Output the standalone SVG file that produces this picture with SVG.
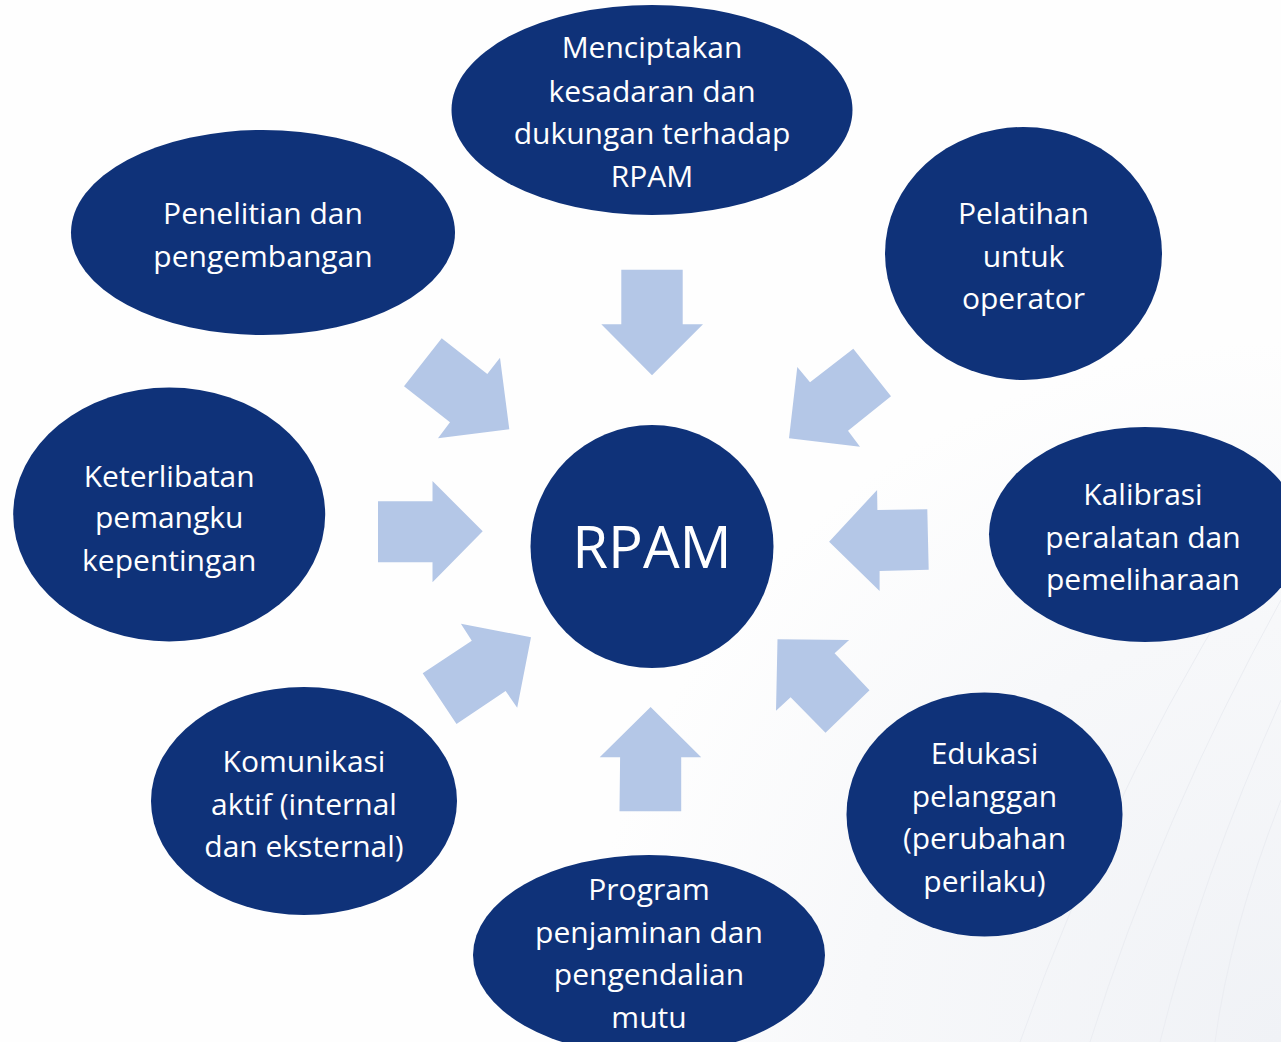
<svg xmlns="http://www.w3.org/2000/svg" width="1281" height="1042" viewBox="0 0 1281 1042">
<defs>
<radialGradient id="bg" cx="1281" cy="1042" r="700" gradientUnits="userSpaceOnUse">
<stop offset="0" stop-color="#F0F2F6"/>
<stop offset="0.6" stop-color="#F7F8FA"/>
<stop offset="1" stop-color="#FEFEFE"/>
</radialGradient>
<style>
.node{fill:#0F3279;}
.lbl{fill:#FFFFFF;font-family:"Open Sans","Noto Sans","DejaVu Sans",sans-serif;font-size:30px;text-anchor:middle;}
.big{font-size:58px;}
.arr{fill:#B4C7E7;}
.bgl{stroke:#EBEDF2;stroke-width:1;fill:none;}
</style>
</defs>
<rect x="0" y="0" width="1281" height="1042" fill="url(#bg)"/>
<g id="background-lines">
<path class="bgl" d="M1281 520 Q1120 760 1020 1042"/>
<path class="bgl" d="M1281 600 Q1160 820 1090 1042"/>
<path class="bgl" d="M1281 700 Q1200 880 1160 1042"/>
<path class="bgl" d="M1281 800 Q1230 930 1215 1042"/>
</g>
<g id="connectors">
<polygon class="arr" points="621.3,269.7 682.7,269.7 682.7,324.3 703,324.3 652,375.3 601.3,324.3 621.3,324.3"/>
<polygon class="arr" points="441.7,338.3 487.3,374 500,357.7 509.3,429.3 438,438.3 450,422.3 404,386.3"/>
<polygon class="arr" points="853.3,348.7 891,396.3 848,430.7 860,446.7 789,438.3 797.3,367 810,382.3"/>
<polygon class="arr" points="378,501.3 432.5,501.3 432.5,481 482.7,531.3 432.5,582.3 432.5,562.3 378,562.3"/>
<polygon class="arr" points="877.1,490 877.4,510 927.3,509.3 928.7,569.7 879.6,571 879.6,591 829.1,541.7"/>
<polygon class="arr" points="460.9,623.7 531,637.3 517.2,707.7 505.6,691 456.5,724 422.7,673.3 471.8,640.7"/>
<polygon class="arr" points="650.6,707 701.2,757.3 681.2,757.3 681.2,811.3 619.5,811.3 620.1,757.3 599.7,757.3"/>
<polygon class="arr" points="777.5,639.3 849.1,640 834.6,653.3 869.5,690.3 825.5,732.7 790.6,697.3 776,710.7"/>
</g>
<g id="node-rpam">
<circle class="node" cx="652" cy="546.5" r="121.5"/>
<text class="lbl big" x="652" y="567.7">RPAM</text>
</g>
<g id="node-menciptakan">
<ellipse class="node" cx="652" cy="110" rx="200.5" ry="105"/>
<text class="lbl" x="652" y="58.3">Menciptakan</text>
<text class="lbl" x="652" y="101.5">kesadaran dan</text>
<text class="lbl" x="652" y="143.5">dukungan terhadap</text>
<text class="lbl" x="652" y="186.5">RPAM</text>
</g>
<g id="node-penelitian">
<ellipse class="node" cx="263" cy="232.5" rx="192" ry="102.5"/>
<text class="lbl" x="263" y="224">Penelitian dan</text>
<text class="lbl" x="263" y="267">pengembangan</text>
</g>
<g id="node-pelatihan">
<ellipse class="node" cx="1023.5" cy="253.5" rx="138.5" ry="126.5"/>
<text class="lbl" x="1023.5" y="224">Pelatihan</text>
<text class="lbl" x="1023.5" y="267">untuk</text>
<text class="lbl" x="1023.5" y="309">operator</text>
</g>
<g id="node-keterlibatan">
<ellipse class="node" cx="169.2" cy="514.5" rx="156" ry="127"/>
<text class="lbl" x="169.2" y="486.7">Keterlibatan</text>
<text class="lbl" x="169.2" y="528">pemangku</text>
<text class="lbl" x="169.2" y="571">kepentingan</text>
</g>
<g id="node-kalibrasi">
<ellipse class="node" cx="1145" cy="534.5" rx="156" ry="107.5"/>
<text class="lbl" x="1143" y="505">Kalibrasi</text>
<text class="lbl" x="1143" y="548">peralatan dan</text>
<text class="lbl" x="1143" y="590">pemeliharaan</text>
</g>
<g id="node-edukasi">
<ellipse class="node" cx="984.5" cy="814.5" rx="138" ry="122"/>
<text class="lbl" x="984.5" y="764">Edukasi</text>
<text class="lbl" x="984.5" y="807">pelanggan</text>
<text class="lbl" x="984.5" y="849">(perubahan</text>
<text class="lbl" x="984.5" y="892">perilaku)</text>
</g>
<g id="node-program">
<ellipse class="node" cx="649" cy="955" rx="176" ry="100"/>
<text class="lbl" x="649" y="900">Program</text>
<text class="lbl" x="649" y="943">penjaminan dan</text>
<text class="lbl" x="649" y="985">pengendalian</text>
<text class="lbl" x="649" y="1028">mutu</text>
</g>
<g id="node-komunikasi">
<ellipse class="node" cx="304" cy="801" rx="153" ry="114"/>
<text class="lbl" x="304" y="772">Komunikasi</text>
<text class="lbl" x="304" y="815">aktif (internal</text>
<text class="lbl" x="304" y="857">dan eksternal)</text>
</g>
</svg>
